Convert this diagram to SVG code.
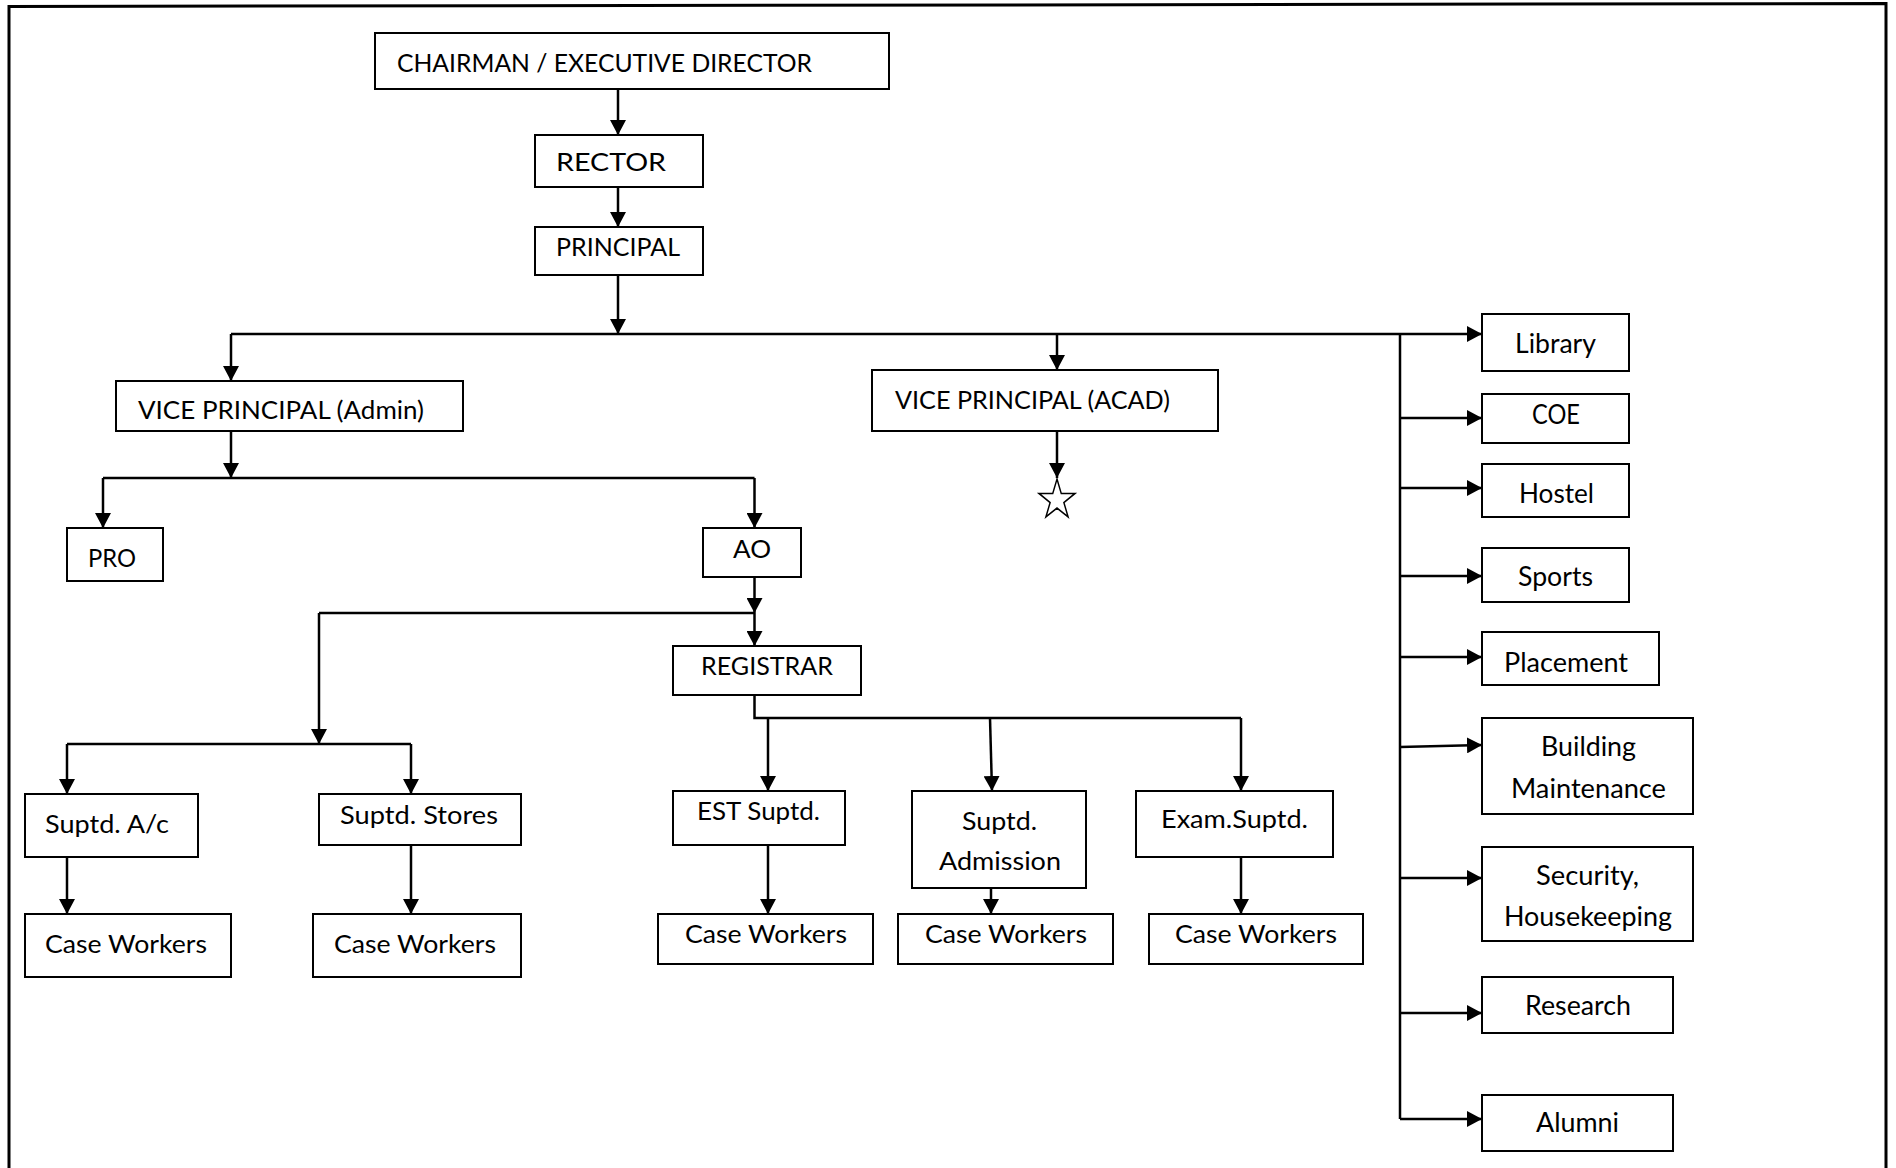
<svg xmlns="http://www.w3.org/2000/svg" width="1896" height="1168" viewBox="0 0 1896 1168">
<style>
.box{fill:#fff;stroke:#000;stroke-width:2}
.t{font-family:Lato,"Open Sans","Liberation Sans",sans-serif;font-size:25px;fill:#000}
.tr{font-family:Lato,"Open Sans","Liberation Sans",sans-serif;font-size:26px;fill:#000}
.c{fill:none;stroke:#000;stroke-width:2.5}
.a{fill:none;stroke:#000;stroke-width:2.5;marker-end:url(#ah)}
</style>
<defs>
<marker id="ah" markerUnits="userSpaceOnUse" markerWidth="15" markerHeight="16" refX="15" refY="8" orient="auto">
<path d="M0,0 L15,8 L0,16 Z" fill="#000"/>
</marker>
<clipPath id="clipSec"><rect x="1482" y="847" width="211" height="84"/></clipPath>
</defs>
<rect width="1896" height="1168" fill="#fff"/>
<path id="frame" d="M9,1168 V6.5 L1886,3.5 V1168" fill="none" stroke="#000" stroke-width="3"/>

<g id="connectors">
<path class="a" d="M618,89 V135"/>
<path class="a" d="M618,187 V227"/>
<path class="a" d="M618,275 V334"/>
<path class="a" d="M231,334 H1482"/>
<path class="a" d="M231,334 V381"/>
<path class="a" d="M1057,334 V370"/>
<path class="c" d="M1400,334 V1119"/>
<path class="a" d="M1400,418 H1482"/>
<path class="a" d="M1400,488 H1482"/>
<path class="a" d="M1400,576 H1482"/>
<path class="a" d="M1400,657 H1482"/>
<path class="a" d="M1400,747 L1482,745"/>
<path class="a" d="M1400,878 H1482"/>
<path class="a" d="M1400,1013 H1482"/>
<path class="a" d="M1400,1119 H1482"/>
<path class="a" d="M231,431 V478"/>
<path class="c" d="M103,478 H754.5"/>
<path class="a" d="M103,478 V528"/>
<path class="a" d="M754.5,478 V528"/>
<path class="a" d="M1057,431 V478"/>
<path class="a" d="M754.5,577 V613"/>
<path class="a" d="M754.5,613 V646"/>
<path class="c" d="M319,613 H754.5"/>
<path class="a" d="M319,613 V744"/>
<path class="c" d="M67,744 H411"/>
<path class="a" d="M67,744 V794"/>
<path class="a" d="M411,744 V794"/>
<path class="a" d="M67,857 V914"/>
<path class="a" d="M411,845 V914"/>
<path class="c" d="M754.5,695 V718 H1241"/>
<path class="a" d="M768,718 V791"/>
<path class="a" d="M990,718 L992,791"/>
<path class="a" d="M1241,718 V791"/>
<path class="a" d="M768,845 V914"/>
<path class="a" d="M991,888 V914"/>
<path class="a" d="M1241,857 V914"/>
</g>

<g id="star">
<polygon transform="translate(1057,500) scale(0.9,1)" points="0,-21 4.71,-6.49 19.97,-6.49 7.63,2.48 12.34,16.99 0,8.02 -12.34,16.99 -7.63,2.48 -19.97,-6.49 -4.71,-6.49" fill="#fff" stroke="#000" stroke-width="1.6"/>
</g>

<g id="chairman"><rect class="box" x="375" y="33" width="514" height="56"/><text class="t" style="font-size:25px" x="397" y="72" textLength="415" lengthAdjust="spacingAndGlyphs">CHAIRMAN / EXECUTIVE DIRECTOR</text></g>
<g id="rector"><rect class="box" x="535" y="135" width="168" height="52"/><text class="t" x="556" y="171" textLength="110" lengthAdjust="spacingAndGlyphs">RECTOR</text></g>
<g id="principal"><rect class="box" x="535" y="227" width="168" height="48"/><text class="t" x="556" y="256" textLength="124" lengthAdjust="spacingAndGlyphs">PRINCIPAL</text></g>
<g id="vp-admin"><rect class="box" x="116" y="381" width="347" height="50"/><text class="t" x="138" y="419" textLength="286" lengthAdjust="spacingAndGlyphs">VICE PRINCIPAL (Admin)</text></g>
<g id="vp-acad"><rect class="box" x="872" y="370" width="346" height="61"/><text class="t" x="895" y="409" textLength="275" lengthAdjust="spacingAndGlyphs">VICE PRINCIPAL (ACAD)</text></g>
<g id="pro"><rect class="box" x="67" y="528" width="96" height="53"/><text class="t" x="88" y="567" textLength="48" lengthAdjust="spacingAndGlyphs">PRO</text></g>
<g id="ao"><rect class="box" x="703" y="528" width="98" height="49"/><text class="t" x="733" y="558" textLength="38" lengthAdjust="spacingAndGlyphs">AO</text></g>
<g id="registrar"><rect class="box" x="673" y="646" width="188" height="49"/><text class="t" x="701" y="675" textLength="132" lengthAdjust="spacingAndGlyphs">REGISTRAR</text></g>
<g id="suptd-ac"><rect class="box" x="25" y="794" width="173" height="63"/><text class="t" x="45" y="833" textLength="124" lengthAdjust="spacingAndGlyphs">Suptd. A/c</text></g>
<g id="suptd-stores"><rect class="box" x="319" y="794" width="202" height="51"/><text class="t" x="340" y="824" textLength="158" lengthAdjust="spacingAndGlyphs">Suptd. Stores</text></g>
<g id="cw-ac"><rect class="box" x="25" y="914" width="206" height="63"/><text class="t" x="45" y="953" textLength="162" lengthAdjust="spacingAndGlyphs">Case Workers</text></g>
<g id="cw-stores"><rect class="box" x="313" y="914" width="208" height="63"/><text class="t" x="334" y="953" textLength="162" lengthAdjust="spacingAndGlyphs">Case Workers</text></g>
<g id="est-suptd"><rect class="box" x="673" y="791" width="172" height="54"/><text class="t" x="697" y="820" textLength="123" lengthAdjust="spacingAndGlyphs">EST Suptd.</text></g>
<g id="suptd-admission"><rect class="box" x="912" y="791" width="174" height="97"/><text class="t" x="962" y="830" textLength="75" lengthAdjust="spacingAndGlyphs">Suptd.</text><text class="t" x="939" y="870" textLength="122" lengthAdjust="spacingAndGlyphs">Admission</text></g>
<g id="exam-suptd"><rect class="box" x="1136" y="791" width="197" height="66"/><text class="t" x="1161" y="828" textLength="147" lengthAdjust="spacingAndGlyphs">Exam.Suptd.</text></g>
<g id="cw-est"><rect class="box" x="658" y="914" width="215" height="50"/><text class="t" x="685" y="943" textLength="162" lengthAdjust="spacingAndGlyphs">Case Workers</text></g>
<g id="cw-admission"><rect class="box" x="898" y="914" width="215" height="50"/><text class="t" x="925" y="943" textLength="162" lengthAdjust="spacingAndGlyphs">Case Workers</text></g>
<g id="cw-exam"><rect class="box" x="1149" y="914" width="214" height="50"/><text class="t" x="1175" y="943" textLength="162" lengthAdjust="spacingAndGlyphs">Case Workers</text></g>

<g id="library"><rect class="box" x="1482" y="314" width="147" height="57"/><text class="tr" x="1515" y="353" textLength="81" lengthAdjust="spacingAndGlyphs">Library</text></g>
<g id="coe"><rect class="box" x="1482" y="394" width="147" height="49"/><text class="tr" x="1532" y="424" textLength="48" lengthAdjust="spacingAndGlyphs">COE</text></g>
<g id="hostel"><rect class="box" x="1482" y="464" width="147" height="53"/><text class="tr" x="1519" y="503" textLength="75" lengthAdjust="spacingAndGlyphs">Hostel</text></g>
<g id="sports"><rect class="box" x="1482" y="548" width="147" height="54"/><text class="tr" x="1518" y="586" textLength="75" lengthAdjust="spacingAndGlyphs">Sports</text></g>
<g id="placement"><rect class="box" x="1482" y="632" width="177" height="53"/><text class="tr" x="1504" y="672" textLength="124" lengthAdjust="spacingAndGlyphs">Placement</text></g>
<g id="building-maintenance"><rect class="box" x="1482" y="718" width="211" height="96"/><text class="tr" x="1541" y="756" textLength="95" lengthAdjust="spacingAndGlyphs">Building</text><text class="tr" x="1511" y="798" textLength="155" lengthAdjust="spacingAndGlyphs">Maintenance</text></g>
<g id="security-housekeeping"><rect class="box" x="1482" y="847" width="211" height="94"/><g clip-path="url(#clipSec)"><text class="tr" x="1536" y="885" textLength="103" lengthAdjust="spacingAndGlyphs">Security,</text><text class="tr" x="1504" y="926" textLength="168" lengthAdjust="spacingAndGlyphs">Housekeeping</text></g></g>
<g id="research"><rect class="box" x="1482" y="977" width="191" height="56"/><text class="tr" x="1525" y="1015" textLength="106" lengthAdjust="spacingAndGlyphs">Research</text></g>
<g id="alumni"><rect class="box" x="1482" y="1095" width="191" height="56"/><text class="tr" x="1536" y="1132" textLength="83" lengthAdjust="spacingAndGlyphs">Alumni</text></g>
</svg>
